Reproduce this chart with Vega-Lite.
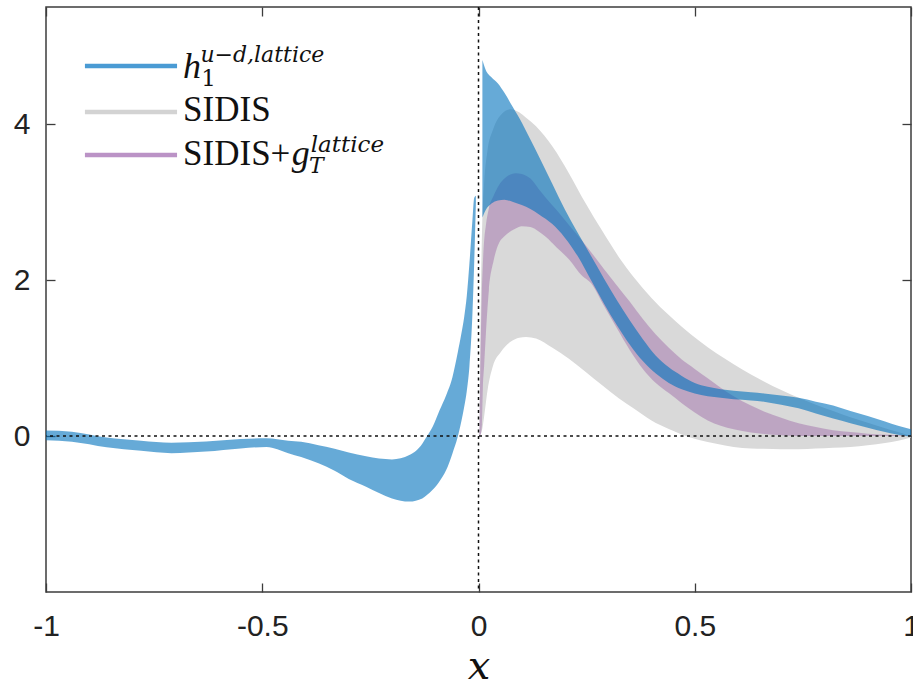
{
  "$schema": "https://vega.github.io/schema/vega-lite/v6.json",
  "width": 865,
  "height": 585,
  "autosize": {"type": "none"},
  "padding": {"left": 46, "top": 7, "right": 2, "bottom": 92},
  "background": "white",
  "config": {
    "view": {"stroke": "#3c3c3c", "strokeWidth": 1.5},
    "axis": {
      "domain": false,
      "grid": false,
      "tickSize": -9,
      "tickColor": "#3c3c3c",
      "tickWidth": 1.3,
      "labelFont": "Liberation Sans",
      "labelFontSize": 30,
      "labelColor": "#222222",
      "labelOverlap": false,
      "labelFlush": false
    }
  },
  "datasets": {
    "blue": [
      {"seg": "neg", "x": -1.0, "lo": -0.055, "hi": 0.07},
      {"seg": "neg", "x": -0.94, "lo": -0.075, "hi": 0.055},
      {"seg": "neg", "x": -0.86, "lo": -0.145, "hi": -0.02},
      {"seg": "neg", "x": -0.78, "lo": -0.19, "hi": -0.06},
      {"seg": "neg", "x": -0.71, "lo": -0.22, "hi": -0.085},
      {"seg": "neg", "x": -0.63, "lo": -0.2, "hi": -0.07},
      {"seg": "neg", "x": -0.55, "lo": -0.16, "hi": -0.04},
      {"seg": "neg", "x": -0.49, "lo": -0.14, "hi": -0.03},
      {"seg": "neg", "x": -0.44, "lo": -0.22, "hi": -0.06},
      {"seg": "neg", "x": -0.41, "lo": -0.27, "hi": -0.075},
      {"seg": "neg", "x": -0.37, "lo": -0.35, "hi": -0.12},
      {"seg": "neg", "x": -0.335, "lo": -0.44, "hi": -0.16},
      {"seg": "neg", "x": -0.3, "lo": -0.55, "hi": -0.21},
      {"seg": "neg", "x": -0.26, "lo": -0.65, "hi": -0.26},
      {"seg": "neg", "x": -0.23, "lo": -0.73, "hi": -0.29},
      {"seg": "neg", "x": -0.2, "lo": -0.8, "hi": -0.3},
      {"seg": "neg", "x": -0.16, "lo": -0.84, "hi": -0.245},
      {"seg": "neg", "x": -0.13, "lo": -0.8, "hi": -0.1},
      {"seg": "neg", "x": -0.12, "lo": -0.76, "hi": -0.01},
      {"seg": "neg", "x": -0.106, "lo": -0.69, "hi": 0.12},
      {"seg": "neg", "x": -0.09, "lo": -0.58, "hi": 0.33},
      {"seg": "neg", "x": -0.075, "lo": -0.44, "hi": 0.52},
      {"seg": "neg", "x": -0.06, "lo": -0.22, "hi": 0.76},
      {"seg": "neg", "x": -0.048, "lo": -0.01, "hi": 1.07},
      {"seg": "neg", "x": -0.04, "lo": 0.18, "hi": 1.3},
      {"seg": "neg", "x": -0.033, "lo": 0.375, "hi": 1.53},
      {"seg": "neg", "x": -0.027, "lo": 0.58, "hi": 1.8},
      {"seg": "neg", "x": -0.021, "lo": 0.89, "hi": 2.21},
      {"seg": "neg", "x": -0.014, "lo": 1.57, "hi": 2.77},
      {"seg": "neg", "x": -0.01, "lo": 2.21, "hi": 3.05},
      {"seg": "neg", "x": -0.006, "lo": 3.0, "hi": 3.08},
      {"seg": "pos", "x": 0.009, "lo": 2.8, "hi": 4.82},
      {"seg": "pos", "x": 0.017, "lo": 2.9, "hi": 4.69},
      {"seg": "pos", "x": 0.03, "lo": 2.98, "hi": 4.6},
      {"seg": "pos", "x": 0.045, "lo": 3.02, "hi": 4.52},
      {"seg": "pos", "x": 0.06, "lo": 3.03, "hi": 4.4},
      {"seg": "pos", "x": 0.08, "lo": 3.0, "hi": 4.21},
      {"seg": "pos", "x": 0.1, "lo": 2.96, "hi": 4.02},
      {"seg": "pos", "x": 0.12, "lo": 2.91, "hi": 3.8},
      {"seg": "pos", "x": 0.14, "lo": 2.84, "hi": 3.58},
      {"seg": "pos", "x": 0.17, "lo": 2.72, "hi": 3.24},
      {"seg": "pos", "x": 0.2, "lo": 2.54, "hi": 2.9},
      {"seg": "pos", "x": 0.23, "lo": 2.3, "hi": 2.6},
      {"seg": "pos", "x": 0.26, "lo": 2.0, "hi": 2.31},
      {"seg": "pos", "x": 0.29, "lo": 1.7, "hi": 2.02},
      {"seg": "pos", "x": 0.32, "lo": 1.42, "hi": 1.74},
      {"seg": "pos", "x": 0.35, "lo": 1.17, "hi": 1.48},
      {"seg": "pos", "x": 0.38, "lo": 0.96, "hi": 1.24},
      {"seg": "pos", "x": 0.41, "lo": 0.8, "hi": 1.03},
      {"seg": "pos", "x": 0.44, "lo": 0.68, "hi": 0.88},
      {"seg": "pos", "x": 0.47, "lo": 0.6, "hi": 0.77},
      {"seg": "pos", "x": 0.5, "lo": 0.545, "hi": 0.68},
      {"seg": "pos", "x": 0.53, "lo": 0.51, "hi": 0.63},
      {"seg": "pos", "x": 0.56, "lo": 0.49, "hi": 0.6},
      {"seg": "pos", "x": 0.59, "lo": 0.47, "hi": 0.58},
      {"seg": "pos", "x": 0.63, "lo": 0.455, "hi": 0.56},
      {"seg": "pos", "x": 0.66, "lo": 0.44, "hi": 0.545},
      {"seg": "pos", "x": 0.7, "lo": 0.4, "hi": 0.52},
      {"seg": "pos", "x": 0.74, "lo": 0.355, "hi": 0.49},
      {"seg": "pos", "x": 0.78, "lo": 0.29, "hi": 0.44},
      {"seg": "pos", "x": 0.82, "lo": 0.225, "hi": 0.39},
      {"seg": "pos", "x": 0.86, "lo": 0.165, "hi": 0.32},
      {"seg": "pos", "x": 0.9, "lo": 0.105, "hi": 0.255},
      {"seg": "pos", "x": 0.94, "lo": 0.05, "hi": 0.185},
      {"seg": "pos", "x": 0.97, "lo": 0.015, "hi": 0.13},
      {"seg": "pos", "x": 1.0, "lo": -0.01, "hi": 0.085}
    ],
    "gray": [
      {"x": 0.002, "lo": 0.0, "hi": 0.0},
      {"x": 0.004, "lo": 0.02, "hi": 1.2},
      {"x": 0.006, "lo": 0.04, "hi": 2.0},
      {"x": 0.009, "lo": 0.1, "hi": 2.8},
      {"x": 0.013, "lo": 0.25, "hi": 3.24},
      {"x": 0.021, "lo": 0.59, "hi": 3.67},
      {"x": 0.033, "lo": 0.89, "hi": 3.92},
      {"x": 0.052, "lo": 1.08, "hi": 4.12},
      {"x": 0.075, "lo": 1.21, "hi": 4.19},
      {"x": 0.094, "lo": 1.26, "hi": 4.15},
      {"x": 0.11, "lo": 1.27, "hi": 4.08},
      {"x": 0.133, "lo": 1.25, "hi": 3.97},
      {"x": 0.171, "lo": 1.13, "hi": 3.71},
      {"x": 0.209, "lo": 0.99, "hi": 3.37},
      {"x": 0.248, "lo": 0.82, "hi": 2.98},
      {"x": 0.286, "lo": 0.65, "hi": 2.63},
      {"x": 0.325, "lo": 0.48, "hi": 2.29},
      {"x": 0.36, "lo": 0.35, "hi": 2.03},
      {"x": 0.4, "lo": 0.2, "hi": 1.77},
      {"x": 0.44, "lo": 0.09, "hi": 1.55},
      {"x": 0.47, "lo": 0.02, "hi": 1.4},
      {"x": 0.51, "lo": -0.05, "hi": 1.22},
      {"x": 0.55, "lo": -0.1, "hi": 1.06},
      {"x": 0.59, "lo": -0.14, "hi": 0.92},
      {"x": 0.63, "lo": -0.16, "hi": 0.79},
      {"x": 0.66, "lo": -0.165, "hi": 0.7},
      {"x": 0.7, "lo": -0.17, "hi": 0.59},
      {"x": 0.74, "lo": -0.17, "hi": 0.49},
      {"x": 0.78, "lo": -0.16, "hi": 0.4},
      {"x": 0.82, "lo": -0.15, "hi": 0.32},
      {"x": 0.86, "lo": -0.14, "hi": 0.24},
      {"x": 0.9, "lo": -0.12, "hi": 0.17},
      {"x": 0.94, "lo": -0.09, "hi": 0.1},
      {"x": 0.97, "lo": -0.06, "hi": 0.05},
      {"x": 1.0, "lo": -0.02, "hi": 0.0}
    ],
    "purple": [
      {"x": 0.002, "lo": 0.0, "hi": 0.0},
      {"x": 0.004, "lo": 0.0, "hi": 0.8},
      {"x": 0.008, "lo": 0.15, "hi": 1.9},
      {"x": 0.01, "lo": 0.6, "hi": 2.2},
      {"x": 0.013, "lo": 0.9, "hi": 2.5},
      {"x": 0.017, "lo": 1.3, "hi": 2.7},
      {"x": 0.024, "lo": 1.87, "hi": 2.92},
      {"x": 0.035, "lo": 2.25, "hi": 3.08},
      {"x": 0.048, "lo": 2.48, "hi": 3.22},
      {"x": 0.06, "lo": 2.56, "hi": 3.3},
      {"x": 0.086, "lo": 2.66, "hi": 3.37},
      {"x": 0.1, "lo": 2.69, "hi": 3.36},
      {"x": 0.12, "lo": 2.68, "hi": 3.3},
      {"x": 0.14, "lo": 2.62, "hi": 3.16},
      {"x": 0.156, "lo": 2.55, "hi": 3.05},
      {"x": 0.18, "lo": 2.42, "hi": 2.9},
      {"x": 0.21, "lo": 2.26, "hi": 2.7},
      {"x": 0.24, "lo": 2.05, "hi": 2.5},
      {"x": 0.26, "lo": 1.96, "hi": 2.36},
      {"x": 0.29, "lo": 1.67, "hi": 2.14},
      {"x": 0.32, "lo": 1.38, "hi": 1.93},
      {"x": 0.35, "lo": 1.1, "hi": 1.72},
      {"x": 0.38, "lo": 0.86, "hi": 1.5},
      {"x": 0.41, "lo": 0.68, "hi": 1.3},
      {"x": 0.44, "lo": 0.55, "hi": 1.13},
      {"x": 0.47, "lo": 0.42, "hi": 0.98},
      {"x": 0.5, "lo": 0.3, "hi": 0.86},
      {"x": 0.53, "lo": 0.2, "hi": 0.74},
      {"x": 0.56, "lo": 0.13, "hi": 0.62},
      {"x": 0.59, "lo": 0.085, "hi": 0.51},
      {"x": 0.63, "lo": 0.045, "hi": 0.39},
      {"x": 0.66, "lo": 0.025, "hi": 0.315},
      {"x": 0.7, "lo": 0.01, "hi": 0.235},
      {"x": 0.74, "lo": 0.0, "hi": 0.165},
      {"x": 0.78, "lo": 0.0, "hi": 0.115},
      {"x": 0.82, "lo": 0.0, "hi": 0.075},
      {"x": 0.86, "lo": 0.0, "hi": 0.05},
      {"x": 0.9, "lo": 0.0, "hi": 0.03},
      {"x": 0.95, "lo": 0.0, "hi": 0.015},
      {"x": 1.0, "lo": 0.0, "hi": 0.0}
    ]
  },
  "layer": [
    {
      "layer": [
        {
          "data": {"name": "gray"},
          "mark": {"type": "area", "color": "#d9d9d9", "opacity": 1, "interpolate": "monotone"},
          "encoding": {
            "x": {
              "field": "x", "type": "quantitative",
              "scale": {"domain": [-1, 1], "nice": false, "zero": false},
              "axis": {
                "orient": "bottom",
                "values": [-1, -0.5, 0, 0.5, 1],
                "labelPadding": 28,
                "labelExpr": "datum.value == 0 ? '0' : (datum.value < 0 ? '-' + abs(datum.value) : '' + datum.value)",
                "title": "x",
                "titleFont": "DejaVu Serif",
                "titleFontStyle": "italic",
                "titleFontWeight": "normal",
                "titleFontSize": 40,
                "titleColor": "#111111",
                "titleBaseline": "alphabetic",
                "titleY": 86
              }
            },
            "y": {
              "field": "hi", "type": "quantitative",
              "scale": {"domain": [-2, 5.5], "nice": false, "zero": false},
              "axis": {
                "orient": "left",
                "values": [0, 2, 4],
                "labelPadding": 25,
                "labelExpr": "datum.value == 0 ? '0' : (datum.value < 0 ? '-' + abs(datum.value) : '' + datum.value)",
                "title": null
              }
            },
            "y2": {"field": "lo"}
          }
        },
        {
          "data": {"name": "purple"},
          "mark": {"type": "area", "color": "#7e2f8e", "opacity": 0.3, "interpolate": "monotone"},
          "encoding": {
            "x": {"field": "x", "type": "quantitative", "title": "x"},
            "y": {"field": "hi", "type": "quantitative", "title": null},
            "y2": {"field": "lo"}
          }
        },
        {
          "data": {"name": "blue"},
          "mark": {"type": "area", "color": "#0072bd", "opacity": 0.6, "interpolate": "monotone"},
          "encoding": {
            "x": {"field": "x", "type": "quantitative", "title": "x"},
            "y": {"field": "hi", "type": "quantitative", "title": null},
            "y2": {"field": "lo"},
            "detail": {"field": "seg"}
          }
        },
        {
          "data": {"values": [{"v": 0}]},
          "mark": {"type": "rule", "color": "#111111", "strokeWidth": 1.5, "strokeDash": [3, 3.5]},
          "encoding": {"y": {"field": "v", "type": "quantitative", "title": null}}
        },
        {
          "data": {"values": [{"v": 0}]},
          "mark": {"type": "rule", "color": "#111111", "strokeWidth": 1.5, "strokeDash": [3, 3.5]},
          "encoding": {"x": {"field": "v", "type": "quantitative", "title": "x"}}
        },
        {
          "data": {"values": [{"series": "lattice"}]},
          "mark": {"type": "rule", "color": "#4a9bd4", "strokeWidth": 4.5, "strokeCap": "butt"},
          "encoding": {"x": {"datum": -0.91}, "x2": {"datum": -0.697}, "y": {"datum": 4.744}}
        },
        {
          "data": {"values": [{"series": "SIDIS"}]},
          "mark": {"type": "rule", "color": "#d3d3d3", "strokeWidth": 4.5, "strokeCap": "butt"},
          "encoding": {"x": {"datum": -0.91}, "x2": {"datum": -0.697}, "y": {"datum": 4.154}}
        },
        {
          "data": {"values": [{"series": "SIDIS+gT"}]},
          "mark": {"type": "rule", "color": "#bb93c6", "strokeWidth": 4.5, "strokeCap": "butt"},
          "encoding": {"x": {"datum": -0.91}, "x2": {"datum": -0.697}, "y": {"datum": 3.603}}
        },
        {
          "data": {"values": [{"t": "h"}]},
          "mark": {"type": "text", "font": "Liberation Serif", "fontStyle": "italic", "fontSize": 36, "align": "left", "baseline": "alphabetic", "color": "#111111"},
          "encoding": {"x": {"datum": -0.683}, "y": {"datum": 4.59}, "text": {"field": "t"}}
        },
        {
          "data": {"values": [{"t": "1"}]},
          "mark": {"type": "text", "font": "DejaVu Serif", "fontSize": 23, "align": "left", "baseline": "alphabetic", "color": "#111111"},
          "encoding": {"x": {"datum": -0.641}, "y": {"datum": 4.487}, "text": {"field": "t"}}
        },
        {
          "data": {"values": [{"t": "u−d,lattice"}]},
          "mark": {"type": "text", "font": "DejaVu Serif", "fontStyle": "italic", "fontSize": 22, "align": "left", "baseline": "alphabetic", "color": "#111111"},
          "encoding": {"x": {"datum": -0.643}, "y": {"datum": 4.8}, "text": {"field": "t"}}
        },
        {
          "data": {"values": [{"t": "SIDIS"}]},
          "mark": {"type": "text", "font": "Liberation Serif", "fontSize": 35, "align": "left", "baseline": "alphabetic", "color": "#111111"},
          "encoding": {"x": {"datum": -0.683}, "y": {"datum": 4.042}, "text": {"field": "t"}}
        },
        {
          "data": {"values": [{"t": "SIDIS+"}]},
          "mark": {"type": "text", "font": "Liberation Serif", "fontSize": 35, "align": "left", "baseline": "alphabetic", "color": "#111111"},
          "encoding": {"x": {"datum": -0.683}, "y": {"datum": 3.474}, "text": {"field": "t"}}
        },
        {
          "data": {"values": [{"t": "g"}]},
          "mark": {"type": "text", "font": "Liberation Serif", "fontStyle": "italic", "fontSize": 36, "align": "left", "baseline": "alphabetic", "color": "#111111"},
          "encoding": {"x": {"datum": -0.432}, "y": {"datum": 3.474}, "text": {"field": "t"}}
        },
        {
          "data": {"values": [{"t": "T"}]},
          "mark": {"type": "text", "font": "DejaVu Serif", "fontStyle": "italic", "fontSize": 22, "align": "left", "baseline": "alphabetic", "color": "#111111"},
          "encoding": {"x": {"datum": -0.392}, "y": {"datum": 3.368}, "text": {"field": "t"}}
        },
        {
          "data": {"values": [{"t": "lattice"}]},
          "mark": {"type": "text", "font": "DejaVu Serif", "fontStyle": "italic", "fontSize": 23, "align": "left", "baseline": "alphabetic", "color": "#111111"},
          "encoding": {"x": {"datum": -0.388}, "y": {"datum": 3.645}, "text": {"field": "t"}}
        }
      ]
    },
    {
      "data": {"values": [{"v": 0}]},
      "mark": {"type": "point", "opacity": 0},
      "encoding": {
        "x": {
          "field": "v", "type": "quantitative",
          "scale": {"domain": [-1, 1], "nice": false, "zero": false},
          "axis": {"orient": "top", "values": [-1, -0.5, 0, 0.5, 1], "labels": false, "title": null}
        },
        "y": {
          "field": "v", "type": "quantitative",
          "scale": {"domain": [-2, 5.5], "nice": false, "zero": false},
          "axis": {"orient": "right", "values": [0, 2, 4], "labels": false, "title": null}
        }
      }
    }
  ],
  "resolve": {"axis": {"x": "independent", "y": "independent"}}
}
